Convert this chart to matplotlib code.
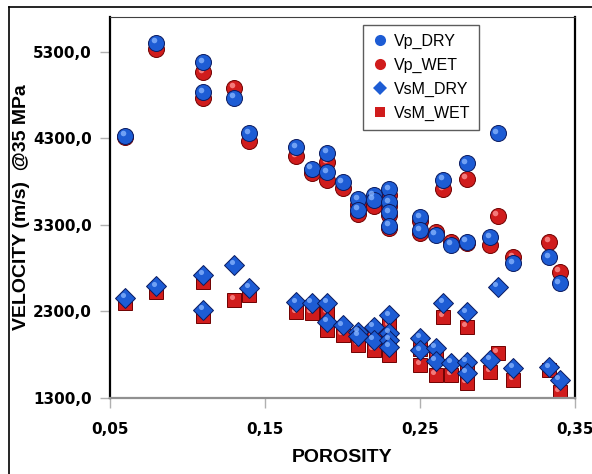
import matplotlib
matplotlib.use("Agg")
import matplotlib.pyplot as plt
import matplotlib.transforms as mtransforms
from matplotlib.lines import Line2D
import numpy as np

plt.rcParams['font.family'] = ['Liberation Sans', 'DejaVu Sans']

# P-wave velocity (m/s) @35 MPa
vp_por = [0.06, 0.08, 0.11, 0.11, 0.13, 0.14, 0.17, 0.18, 0.19, 0.19, 0.20, 0.21, 0.21,
          0.22, 0.22, 0.23, 0.23, 0.23, 0.23, 0.25, 0.25, 0.26, 0.27, 0.28, 0.265, 0.28,
          0.30, 0.295, 0.31, 0.333, 0.34]
vp_dry = [4330, 5400, 5175, 4830, 4770, 4355, 4195, 3950, 4135, 3905, 3790, 3595, 3470,
          3640, 3585, 3710, 3560, 3445, 3285, 3385, 3235, 3180, 3065, 3100, 3815, 4010,
          4355, 3155, 2855, 2925, 2625]
vp_wet = [4310, 5325, 5060, 4760, 4885, 4265, 4090, 3895, 4020, 3815, 3720, 3525, 3420,
          3585, 3515, 3640, 3515, 3410, 3260, 3350, 3200, 3215, 3100, 3085, 3710, 3835,
          3400, 3065, 2925, 3100, 2755]

# S-wave velocity (m/s) @35 MPa
vs_por = [0.06, 0.08, 0.11, 0.11, 0.13, 0.14, 0.17, 0.18, 0.19, 0.19, 0.20, 0.21, 0.21,
          0.22, 0.22, 0.23, 0.23, 0.23, 0.23, 0.25, 0.25, 0.26, 0.26, 0.27, 0.28, 0.28,
          0.265, 0.28, 0.295, 0.30, 0.31, 0.333, 0.34]
vs_dry = [2455, 2590, 2720, 2315, 2835, 2570, 2405, 2395, 2395, 2175, 2140, 2060, 2015,
          2120, 1970, 2255, 2050, 1970, 1890, 1990, 1850, 1875, 1725, 1705, 1715, 1590,
          2395, 2290, 1740, 2580, 1645, 1655, 1510]
vs_wet = [2395, 2520, 2635, 2245, 2430, 2490, 2290, 2280, 2290, 2085, 2025, 1945, 1910,
          2005, 1855, 2140, 1970, 1880, 1795, 1865, 1680, 1790, 1565, 1565, 1625, 1475,
          2235, 2120, 1600, 1820, 1510, 1625, 1370]

xticks = [0.05, 0.15, 0.25, 0.35]
yticks = [1300, 2300, 3300, 4300, 5300]

blue = '#1d5cd4'
blue_hi = '#8cb8ff'
red = '#d01c1c'
red_hi = '#ff9a9a'

fig = plt.figure(figsize=(5.92, 4.74), dpi=100)
ax = fig.add_axes([0.1858, 0.1603, 0.7855, 0.8038])

# small shift up-left for the glossy highlight
hi_trans = mtransforms.offset_copy(ax.transData, fig=fig, x=-1.5, y=2.0, units='points')

def glossy(x, y, marker, size, col, hi, edge, label):
    ax.plot(x, y, linestyle='none', marker=marker, markersize=size, color=col,
            markeredgecolor=edge, markeredgewidth=0.7, label=label)
    ax.plot(x, y, linestyle='none', marker='o', markersize=size * 0.35,
            color=hi, markeredgewidth=0, alpha=0.75, transform=hi_trans)

# draw order: wet behind dry
glossy(vs_por, vs_wet, 's', 10.5, red, red_hi, '#700000', 'VsM_WET')
glossy(vs_por, vs_dry, 'D', 10.5, blue, blue_hi, '#0a1a60', 'VsM_DRY')
glossy(vp_por, vp_wet, 'o', 11.5, red, red_hi, '#700000', 'Vp_WET')
glossy(vp_por, vp_dry, 'o', 11.5, blue, blue_hi, '#0a1a60', 'Vp_DRY')

ax.set_xlim(0.05, 0.35)
ax.set_ylim(1300, 5700)
ax.set_xticks(xticks)
ax.set_yticks(yticks)
ax.set_xticklabels([f"{t:.2f}".replace('.', ',') for t in xticks],
                   fontsize=11, fontweight='bold', family='DejaVu Sans')
ax.set_yticklabels([f"{t:.1f}".replace('.', ',') for t in yticks],
                   fontsize=11, fontweight='bold', family='DejaVu Sans')
ax.tick_params(axis='both', direction='out', length=7, width=1, color='#b0b0b0')
ax.tick_params(axis='x', pad=10)
ax.tick_params(axis='y', pad=6)

ax.spines['left'].set_color('black')
ax.spines['left'].set_linewidth(1.6)
ax.spines['right'].set_color('black')
ax.spines['right'].set_linewidth(1.6)
ax.spines['top'].set_color('#404040')
ax.spines['top'].set_linewidth(0.8)
ax.spines['bottom'].set_color('#909090')
ax.spines['bottom'].set_linewidth(1.6)

ax.set_xlabel('POROSITY', fontsize=14, fontweight='bold', labelpad=9)
ax.set_ylabel('VELOCITY (m/s)  @35 MPa', fontsize=14, fontweight='bold')
ax.yaxis.set_label_coords(-0.172, 0.5)

handles = [
    Line2D([], [], linestyle='none', marker='o', markersize=8, color=blue, markeredgewidth=0),
    Line2D([], [], linestyle='none', marker='o', markersize=8, color=red, markeredgewidth=0),
    Line2D([], [], linestyle='none', marker='D', markersize=7, color=blue, markeredgewidth=0),
    Line2D([], [], linestyle='none', marker='s', markersize=7, color=red, markeredgewidth=0),
]
leg = ax.legend(handles, ['Vp_DRY', 'Vp_WET', 'VsM_DRY', 'VsM_WET'],
                loc='upper left', bbox_to_anchor=(0.544, 0.979), borderaxespad=0,
                fontsize=11.5, frameon=True, fancybox=False, handlelength=1.0,
                handletextpad=0.4, labelspacing=0.55, borderpad=0.55)
leg.get_frame().set_edgecolor('#333333')
leg.get_frame().set_linewidth(1.0)

# outer frame lines of the original graphic
fig.add_artist(Line2D([9 / 592, 9 / 592], [0, 1 - 7 / 474], color='black', lw=1.2))
fig.add_artist(Line2D([9 / 592, 1], [1 - 7 / 474, 1 - 7 / 474], color='black', lw=1.2))

fig.savefig('out.png', dpi=100)
